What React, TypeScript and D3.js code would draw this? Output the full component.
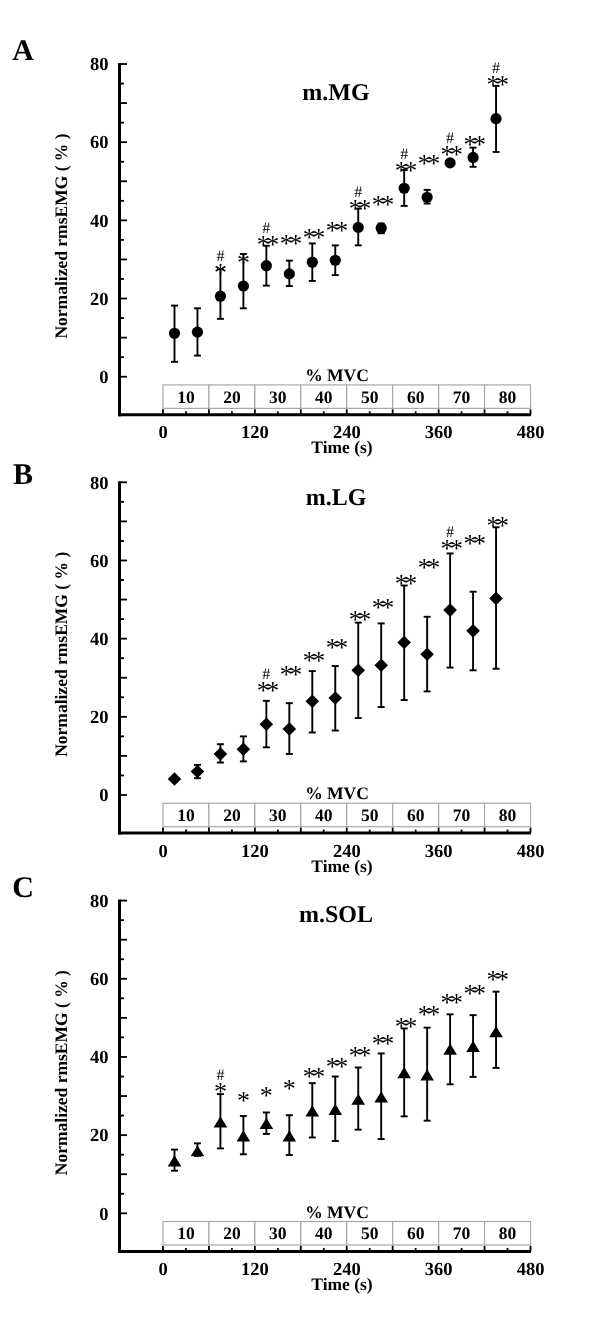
import React from "react";
import * as d3 from "d3";

// ---- data ----
const timePoints = [15, 45, 75, 105, 135, 165, 195, 225, 255, 285, 315, 345, 375, 405, 435];

const mgMean = [11.1, 11.4, 20.6, 23.2, 28.4, 26.3, 29.3, 29.8, 38.2, 38.0, 48.2, 45.9, 54.7, 56.1, 66.0];
const mgUpper = [18.2, 17.5, 27.5, 31.4, 33.5, 29.7, 34.1, 33.6, 43.0, 39.2, 52.9, 47.8, 55.3, 58.6, 74.4];
const mgLower = [3.8, 5.4, 14.8, 17.5, 23.3, 23.2, 24.5, 26.0, 33.6, 36.7, 43.7, 44.3, 54.1, 53.7, 57.5];
const mgSig = ["", "", "*", "*", "**", "**", "**", "**", "**", "**", "**", "**", "**", "**", "**"];
const mgSigY = [null, null, 27.7, 30.3, 35.0, 35.2, 36.7, 38.5, 44.3, 45.2, 53.9, 55.7, 58.0, 60.5, 75.9];
const mgHash = [false, false, true, false, true, false, false, false, true, false, true, false, true, false, true];

const lgMean = [4.1, 6.0, 10.5, 11.7, 18.1, 16.9, 24.0, 24.8, 31.9, 33.2, 39.0, 36.0, 47.3, 42.0, 50.3];
const lgUpper = [4.6, 7.7, 13.0, 15.0, 24.1, 23.5, 31.7, 33.0, 44.1, 43.9, 53.6, 45.6, 61.8, 52.0, 68.5];
const lgLower = [3.6, 4.3, 8.3, 8.6, 12.2, 10.5, 16.0, 16.5, 19.7, 22.5, 24.3, 26.5, 32.6, 31.9, 32.3];
const lgSig = ["", "", "", "", "**", "**", "**", "**", "**", "**", "**", "**", "**", "**", "**"];
const lgSigY = [null, null, null, null, 27.8, 31.9, 35.6, 38.8, 46.0, 49.2, 55.2, 59.4, 64.1, 65.4, 70.0];
const lgHash = [false, false, false, false, true, false, false, false, false, false, false, false, true, false, false];

const solMean = [13.4, 16.0, 23.4, 19.8, 23.0, 19.8, 26.2, 26.6, 29.2, 29.8, 36.0, 35.4, 42.0, 42.7, 46.5];
const solUpper = [16.3, 17.9, 30.5, 24.9, 25.8, 25.1, 33.3, 35.0, 37.3, 40.9, 47.3, 47.5, 50.9, 50.7, 56.7];
const solLower = [10.9, 14.7, 16.6, 15.1, 20.3, 14.9, 19.4, 18.5, 21.4, 19.0, 24.8, 23.7, 33.0, 34.9, 37.2];
const solSig = ["", "", "*", "*", "*", "*", "**", "**", "**", "**", "**", "**", "**", "**", "**"];
const solSigY = [null, null, 32.3, 29.9, 31.3, 33.2, 36.2, 38.6, 41.4, 44.5, 49.0, 51.9, 55.2, 57.5, 61.0];
const solHash = [false, false, true, false, false, false, false, false, false, false, false, false, false, false, false];

const mvcLevels = ["10", "20", "30", "40", "50", "60", "70", "80"];
const mvcStarts = [0, 60, 120, 180, 240, 300, 360, 420];
const xTickLabels = [0, 120, 240, 360, 480];
const yTickLabels = [0, 20, 40, 60, 80];

const FONT = "'Liberation Serif', 'Times New Roman', serif";

type PanelProps = {
  off: number;
  letter: string;
  letterY: number;
  title: string;
  titleVal: number;
  mean: number[];
  upper: number[];
  lower: number[];
  sig: string[];
  sigY: (number | null)[];
  hash: boolean[];
  marker: "circle" | "diamond" | "triangle";
};

function Marker({ kind, cx, cy }: { kind: string; cx: number; cy: number }) {
  if (kind === "circle") return <circle cx={cx} cy={cy} r={5.6} fill="#000" />;
  if (kind === "diamond") {
    const h = 6.8;
    return <path d={`M${cx},${cy - h}L${cx + h},${cy}L${cx},${cy + h}L${cx - h},${cy}Z`} fill="#000" />;
  }
  const w = 6.8, hh = 5.6;
  return <path d={`M${cx},${cy - hh}L${cx + w},${cy + hh}L${cx - w},${cy + hh}Z`} fill="#000" />;
}

function Panel(p: PanelProps) {
  const x = d3.scaleLinear().domain([0, 480]).range([163, 530.5]);
  const y = d3.scaleLinear().domain([-10, 80]).range([415.8 + p.off, 64 + p.off]);
  const axisX = 119.5;
  const axisY = y(-10) - 1;
  const yTicks = d3.range(0, 81, 5);
  const xTicks = d3.range(0, 481, 30);
  const tableTop = y(-2.1);
  const tableBot = y(-8.1);
  return (
    <g fontFamily={FONT} fill="#000">
      <text x={23} y={p.letterY} fontSize={30} fontWeight="bold" textAnchor="middle">{p.letter}</text>
      <text x={336} y={y(p.titleVal)} fontSize={24} fontWeight="bold" textAnchor="middle">{p.title}</text>
      {/* y axis title */}
      <text
        transform={`translate(${67},${y(36)}) rotate(-90)`}
        fontSize={17.5}
        fontWeight="bold"
        textAnchor="middle"
      >
        Normalized rmsEMG ( % )
      </text>
      {/* MVC table */}
      <text x={337} y={tableTop - 4} fontSize={17.5} fontWeight="bold" textAnchor="middle">% MVC</text>
      {mvcStarts.map((s, i) => (
        <g key={i}>
          <rect x={x(s)} y={tableTop} width={x(s + 60) - x(s)} height={tableBot - tableTop} fill="#fff" stroke="#a8a8a8" strokeWidth={1.2} />
          <text x={(x(s) + x(s + 60)) / 2} y={tableBot - 5.5} fontSize={17.5} fontWeight="bold" textAnchor="middle">{mvcLevels[i]}</text>
        </g>
      ))}
      {/* axes */}
      <line x1={axisX} x2={axisX} y1={y(80) - 1} y2={axisY + 1.5} stroke="#000" strokeWidth={3} />
      <line x1={axisX - 1.5} x2={531} y1={axisY} y2={axisY} stroke="#000" strokeWidth={3} />
      {yTicks.map((t) => (
        <line key={"yt" + t} x1={axisX} x2={axisX + (t % 10 === 0 ? 7.5 : 4.5)} y1={y(t)} y2={y(t)} stroke="#000" strokeWidth={1.8} />
      ))}
      {yTickLabels.map((t) => (
        <text key={"yl" + t} x={108.5} y={y(t) + 6.3} fontSize={18.5} fontWeight="bold" textAnchor="end">{t}</text>
      ))}
      {xTicks.map((t) => (
        <line key={"xt" + t} x1={x(t)} x2={x(t)} y1={axisY} y2={axisY - (t % 60 === 0 ? 5.5 : 3.5)} stroke="#000" strokeWidth={1.8} />
      ))}
      {xTickLabels.map((t) => (
        <text key={"xl" + t} x={x(t)} y={axisY + 23.5} fontSize={18.5} fontWeight="bold" textAnchor="middle">{t}</text>
      ))}
      <text x={342} y={axisY + 38.5} fontSize={17.5} fontWeight="bold" textAnchor="middle">Time (s)</text>
      {/* error bars */}
      {timePoints.map((t, i) => {
        const cx = x(t);
        return (
          <g key={"e" + i} stroke="#000" strokeWidth={1.9}>
            <line x1={cx} x2={cx} y1={y(p.upper[i])} y2={y(p.lower[i])} />
            <line x1={cx - 3.5} x2={cx + 3.5} y1={y(p.upper[i])} y2={y(p.upper[i])} />
            <line x1={cx - 3.5} x2={cx + 3.5} y1={y(p.lower[i])} y2={y(p.lower[i])} />
          </g>
        );
      })}
      {timePoints.map((t, i) => (
        <Marker key={"m" + i} kind={p.marker} cx={x(t)} cy={y(p.mean[i])} />
      ))}
      {/* significance marks: '#' above the stars */}
      {timePoints.map((t, i) => {
        const sv = p.sigY[i];
        if (sv == null || !p.sig[i]) return null;
        const cy = y(sv);
        const cx = x(t);
        return (
          <g key={"s" + i}>
            {p.hash[i] ? (
              <text x={cx} y={cy - 7} fontSize={16} textAnchor="middle" fill="#000">#</text>
            ) : null}
            <text x={cx} y={cy + 13} fontSize={26} textAnchor="middle" fill="#000"
              letterSpacing={p.sig[i].length > 1 ? -3.5 : 0}>{p.sig[i]}</text>
          </g>
        );
      })}
    </g>
  );
}

export default function App() {
  return (
    <svg width={600} height={1329}
      style={{ position: "absolute", left: 0, top: 0, background: "#fff", willChange: "transform" }}
      textRendering="geometricPrecision">
      <rect width={600} height={1329} fill="#fff" />
      <Panel off={0} letter="A" letterY={60} title="m.MG" titleVal={70.8}
        mean={mgMean} upper={mgUpper} lower={mgLower} sig={mgSig} sigY={mgSigY} hash={mgHash} marker="circle" />
      <Panel off={418.3} letter="B" letterY={484} title="m.LG" titleVal={74.3}
        mean={lgMean} upper={lgUpper} lower={lgLower} sig={lgSig} sigY={lgSigY} hash={lgHash} marker="diamond" />
      <Panel off={836.6} letter="C" letterY={897} title="m.SOL" titleVal={74.4}
        mean={solMean} upper={solUpper} lower={solLower} sig={solSig} sigY={solSigY} hash={solHash} marker="triangle" />
    </svg>
  );
}
